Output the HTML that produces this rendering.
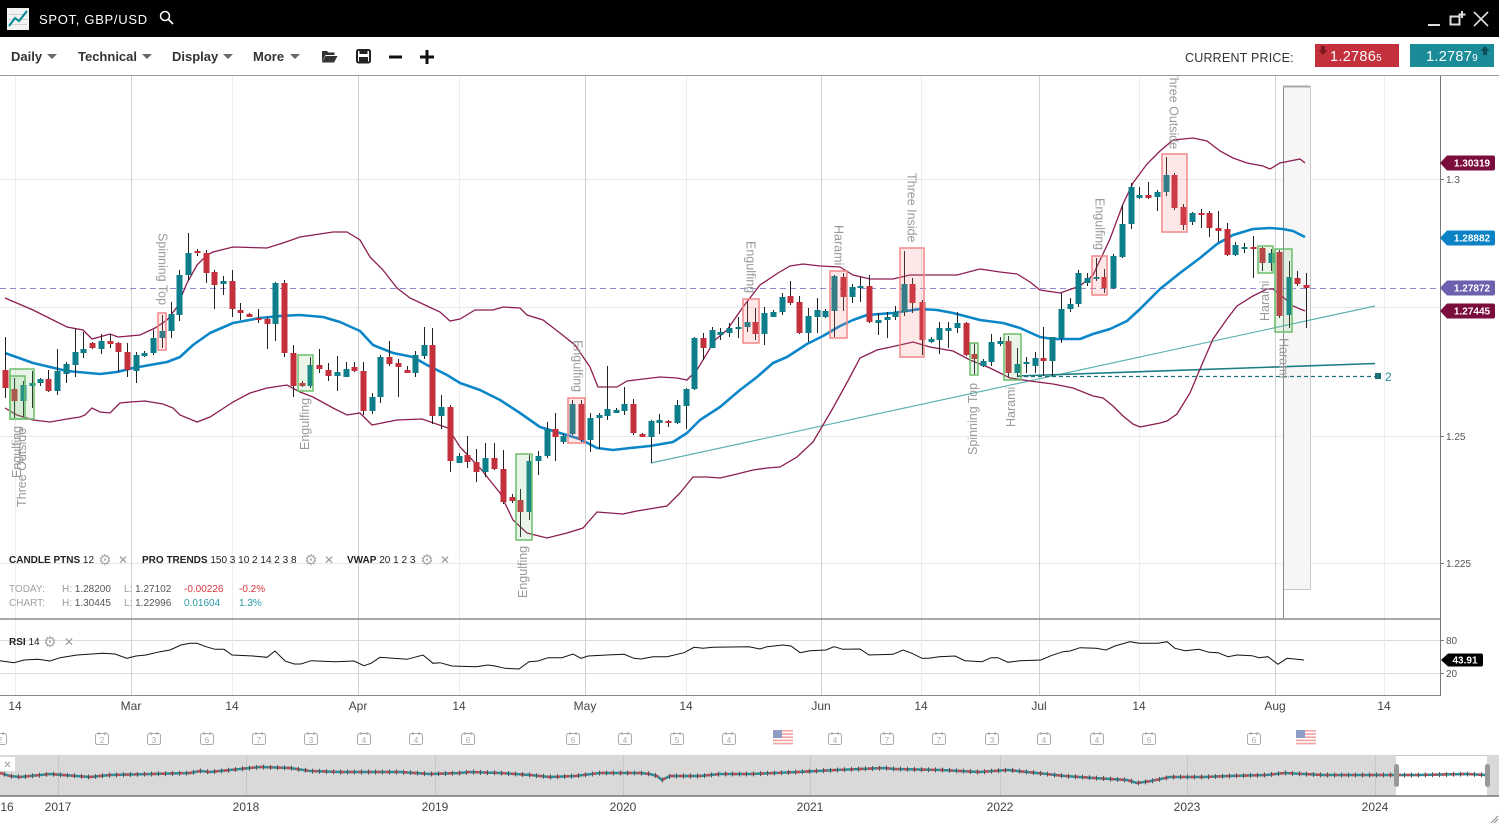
<!DOCTYPE html>
<html><head><meta charset="utf-8"><title>SPOT, GBP/USD</title>
<style>
html,body{margin:0;padding:0;background:#fff;overflow:hidden;width:1499px;height:824px;}
svg{display:block;font-family:"Liberation Sans",sans-serif;}
.sym{font-family:"DejaVu Sans",sans-serif;}
</style></head><body>
<svg id="s" width="1499" height="824" viewBox="0 0 1499 824" xmlns="http://www.w3.org/2000/svg">
<defs>
<clipPath id="cp"><rect x="0" y="76" width="1440" height="542"/></clipPath>
<clipPath id="cr"><rect x="0" y="620" width="1440" height="75"/></clipPath>
</defs>
<rect width="1499" height="824" fill="#fff"/>

<!-- top bar -->
<rect width="1499" height="37" fill="#000"/>
<rect x="7" y="8" width="22" height="22" fill="#f2f2f2"/>
<g stroke="#d0d0d0" stroke-width="1"><line x1="9" y1="14.5" x2="27" y2="14.5"/><line x1="9" y1="19.5" x2="27" y2="19.5"/><line x1="9" y1="24.5" x2="27" y2="24.5"/></g>
<polyline points="9,26 15,18 19,21 27,11" fill="none" stroke="#0f8c96" stroke-width="2.2"/>
<text x="39" y="24" fill="#fff" font-size="13" letter-spacing="0.7">SPOT, GBP/USD</text>
<circle cx="165" cy="16" r="4.5" fill="none" stroke="#fff" stroke-width="1.5"/>
<line x1="168.3" y1="19.3" x2="173" y2="24" stroke="#fff" stroke-width="1.8"/>
<line x1="1428" y1="25" x2="1440" y2="25" stroke="#ddd" stroke-width="2"/>
<rect x="1450.5" y="16.5" width="9" height="8" fill="none" stroke="#ddd" stroke-width="2"/>
<path d="M1462,11 v7 M1458.5,14.5 h7" stroke="#ddd" stroke-width="2"/>
<path d="M1474,12 L1488,26 M1488,12 L1474,26" stroke="#ddd" stroke-width="1.6"/>

<!-- toolbar -->
<g font-size="13" font-weight="bold" fill="#333">
<text x="11" y="61">Daily</text><text x="78" y="61">Technical</text><text x="172" y="61">Display</text><text x="253" y="61">More</text>
</g>
<g fill="#666"><path d="M47,54h10l-5,5z"/><path d="M142,54h10l-5,5z"/><path d="M223,54h10l-5,5z"/><path d="M290,54h10l-5,5z"/></g>
<path d="M322,51 h5 l1.5,1.5 h6 v2.5 h-9 l-3.5,7 z" fill="#333"/>
<path d="M325.5,56 h12 l-3.5,6.5 h-12 z" fill="#333"/>
<rect x="357" y="50" width="13" height="12.5" rx="1.5" fill="none" stroke="#222" stroke-width="2"/>
<rect x="359.5" y="50" width="8" height="4" fill="#222"/>
<rect x="359" y="57" width="9" height="5" fill="#222"/>
<rect x="389" y="55.5" width="13" height="3" fill="#111"/>
<rect x="420" y="55.5" width="14" height="3" fill="#111"/><rect x="425.5" y="50" width="3" height="14" fill="#111"/>

<text x="1185" y="62" font-size="12.5" fill="#333" letter-spacing="0.2">CURRENT PRICE:</text>
<rect x="1315" y="44" width="84" height="23" fill="#c4303c"/>
<text x="1330" y="61" font-size="14.5" fill="#fff" letter-spacing="0.3">1.2786<tspan font-size="10">5</tspan></text>
<path d="M1321,46 h4 v4 h2.5 l-4.5,5 l-4.5,-5 h2.5z" fill="#7b1a20"/>
<rect x="1410" y="44" width="84" height="23" fill="#1a8c98"/>
<text x="1426" y="61" font-size="14.5" fill="#fff" letter-spacing="0.3">1.2787<tspan font-size="10">9</tspan></text>
<path d="M1485,46 l4.5,5 h-2.5 v4 h-4 v-4 h-2.5z" fill="#0c4f58"/>

<line x1="0" y1="75.5" x2="1499" y2="75.5" stroke="#9a9a9a"/>

<!-- grid -->
<g stroke="#e8e8e8" stroke-width="1">
<line x1="0" y1="179.5" x2="1440" y2="179.5"/><line x1="0" y1="307.5" x2="1440" y2="307.5"/>
<line x1="0" y1="436.5" x2="1440" y2="436.5"/><line x1="0" y1="563.5" x2="1440" y2="563.5"/>
<line x1="0" y1="640.5" x2="1440" y2="640.5" stroke="#dcdcdc"/><line x1="0" y1="673.5" x2="1440" y2="673.5" stroke="#dcdcdc"/>
</g>
<g stroke="#ececec" stroke-width="1">
<line x1="15.5" y1="76" x2="15.5" y2="695"/><line x1="232.5" y1="76" x2="232.5" y2="695"/>
<line x1="459.5" y1="76" x2="459.5" y2="695"/><line x1="686.5" y1="76" x2="686.5" y2="695"/>
<line x1="921.5" y1="76" x2="921.5" y2="695"/><line x1="1139.5" y1="76" x2="1139.5" y2="695"/>
<line x1="1384.5" y1="76" x2="1384.5" y2="695"/>
</g>
<g stroke="#d0d0d0" stroke-width="1">
<line x1="131.5" y1="76" x2="131.5" y2="695"/><line x1="358.5" y1="76" x2="358.5" y2="695"/>
<line x1="585.5" y1="76" x2="585.5" y2="695"/><line x1="821.5" y1="76" x2="821.5" y2="695"/>
<line x1="1039.5" y1="76" x2="1039.5" y2="695"/><line x1="1275.5" y1="76" x2="1275.5" y2="695"/>
</g>

<g clip-path="url(#cp)">
<!-- highlight column -->
<rect x="1283.5" y="86.5" width="27" height="503" fill="#f6f6f6" stroke="#c8c8c8"/>
<line x1="1283.5" y1="86" x2="1283.5" y2="618" stroke="#8a8a8a"/>
<line x1="1283" y1="86.5" x2="1310" y2="86.5" stroke="#aaa" stroke-width="2"/>
<!-- current price line -->
<line x1="0" y1="288.5" x2="1440" y2="288.5" stroke="#8f88cc" stroke-dasharray="6,4"/>
<!-- trend lines -->
<line x1="651" y1="463" x2="1375" y2="306" stroke="#5fb2b2" stroke-width="1.2"/>
<line x1="1017" y1="376" x2="1375" y2="363.5" stroke="#1d7d87" stroke-width="1.6"/>
<line x1="1017" y1="376.5" x2="1375" y2="376.5" stroke="#1d6f79" stroke-width="1.2" stroke-dasharray="4,3"/>
<rect x="1375" y="373" width="6" height="6" fill="#1d6f79"/>
<text x="1385" y="381" font-size="12" fill="#2a8a94">2</text>
<!-- bands -->
<polyline fill="none" stroke="#8c1d52" stroke-width="1.3" points="5,298 33,310 67,327 83,330 92,339 110,334 118,337 140,335 155,328 167,320 177,307 187,283 197,265 207,255 213,252 233,247 267,248 283,243 300,237 333,232 347,232 360,240 370,257 383,270 397,288 410,298 427,306 440,312 450,321 460,319 475,310 493,310 503,307 520,308 527,315 543,320 560,333 575,345 590,367 598,387 617,387 627,381 660,377 677,378 687,380 697,370 715,340 727,330 743,307 760,285 778,273 790,266 803,264 820,266 840,267 853,275 870,279 893,279 910,275 940,275 957,275 980,269 1000,272 1017,274 1030,282 1040,290 1060,293 1080,286 1093,275 1110,239 1123,204 1133,183 1147,164 1160,151 1173,140 1193,138 1207,141 1220,151 1233,158 1247,163 1263,166 1270,169 1280,163 1300,159 1305,163"/>
<polyline fill="none" stroke="#8c1d52" stroke-width="1.3" points="5,408 17,415 33,420 50,422 67,419 80,417 85,415 92,408 100,412 110,413 120,403 130,402 145,401 163,404 173,408 180,415 197,422 210,417 233,402 250,393 267,388 287,385 300,392 313,397 333,408 347,415 360,413 372,425 397,420 422,419 448,428 460,447 480,468 500,493 513,520 527,533 547,538 567,533 583,528 597,512 623,514 637,511 667,506 680,493 693,477 707,477 720,478 733,475 753,470 767,468 780,467 797,457 813,442 833,408 850,377 860,358 877,350 900,345 913,342 930,347 953,351 970,360 990,368 1010,378 1030,381 1053,384 1073,388 1093,396 1103,398 1113,406 1123,416 1133,424 1140,427 1160,423 1167,421 1177,414 1190,393 1200,369 1213,339 1227,319 1237,306 1253,296 1267,289 1273,289 1283,297 1293,306 1305,311"/>
<polyline fill="none" stroke="#0b86c8" stroke-width="2.6" stroke-linejoin="round" points="5,353 33,363 67,371 100,374 117,372 133,368 167,362 180,357 193,345 210,333 233,323 260,318 280,316 300,315 323,317 340,322 360,331 373,345 393,353 413,357 427,365 447,375 460,383 480,390 500,400 520,413 540,427 560,433 580,439 597,448 613,450 630,448 650,446 673,442 687,433 700,420 720,407 740,390 757,377 773,363 787,357 807,344 823,336 840,326 853,320 867,315 880,314 893,313 920,309 937,310 953,313 980,320 1003,323 1020,328 1040,337 1053,339 1080,339 1093,334 1110,329 1127,321 1140,309 1160,289 1180,273 1200,258 1217,244 1233,235 1253,229 1270,228 1283,229 1293,231 1305,237"/>
<!-- candles -->
<g id="cd"></g>
<!-- pattern boxes -->
<g fill="rgba(110,195,110,0.16)" stroke="#6cbf6c" stroke-width="1.5">
<rect x="10" y="369" width="24" height="50"/><rect x="10" y="376" width="15" height="43"/>
<rect x="298" y="355" width="15" height="36"/><rect x="516" y="454" width="16" height="86"/>
<rect x="970" y="343" width="8" height="32"/><rect x="1004" y="334" width="17" height="46"/>
<rect x="1258" y="246" width="15" height="27"/><rect x="1275" y="249" width="17" height="83"/>
</g>
<g fill="rgba(250,110,110,0.17)" stroke="#f08888" stroke-width="1.5">
<rect x="158" y="313" width="8" height="37"/><rect x="568" y="398" width="17" height="45"/>
<rect x="743" y="299" width="16" height="44"/><rect x="830" y="271" width="17" height="67"/>
<rect x="900" y="248" width="24" height="109"/><rect x="1092" y="256" width="15" height="39"/>
<rect x="1162" y="154" width="25" height="78"/>
</g>
<!-- pattern labels -->
<g font-size="12.5" fill="#9a9a9a">
<text transform="translate(26,507) rotate(-90)">Three Outside</text>
<text transform="translate(21,478) rotate(-90)">Engulfing</text>
<text transform="translate(158.5,233) rotate(90)">Spinning Top</text>
<text transform="translate(309,450) rotate(-90)">Engulfing</text>
<text transform="translate(527,598) rotate(-90)">Engulfing</text>
<text transform="translate(573.5,340) rotate(90)">Engulfing</text>
<text transform="translate(746.5,241) rotate(90)">Engulfing</text>
<text transform="translate(834.5,225) rotate(90)">Harami</text>
<text transform="translate(907.5,173) rotate(90)">Three Inside</text>
<text transform="translate(977,455) rotate(-90)">Spinning Top</text>
<text transform="translate(1015,427) rotate(-90)">Harami</text>
<text transform="translate(1095.5,198) rotate(90)">Engulfing</text>
<text transform="translate(1169.5,70) rotate(90)">Three Outside</text>
<text transform="translate(1269,321) rotate(-90)">Harami</text>
<text transform="translate(1279.5,338) rotate(90)">Harami</text>
</g>
</g>

<!-- legend -->
<g font-size="10" fill="#222">
<text x="9" y="563"><tspan font-weight="bold">CANDLE PTNS</tspan> 12</text>
<text x="142" y="563"><tspan font-weight="bold">PRO TRENDS</tspan> 150 3 10 2 14 2 3 8</text>
<text x="347" y="563"><tspan font-weight="bold">VWAP</tspan> 20 1 2 3</text>
</g>
<g class="sym" font-size="15" fill="#a8a8a8" text-anchor="middle">
<text x="105" y="565">⚙</text><text x="311" y="565">⚙</text><text x="427" y="565">⚙</text><text x="50" y="647">⚙</text>
</g>
<g class="sym" font-size="12" fill="#999" text-anchor="middle" font-weight="bold">
<text x="123" y="564">✕</text><text x="329" y="564">✕</text><text x="445" y="564">✕</text><text x="69" y="646">✕</text>
</g>
<g font-size="10">
<text x="9" y="592" fill="#a0a0a0">TODAY:</text>
<text x="62" y="592" fill="#555"><tspan fill="#999">H:</tspan> 1.28200</text>
<text x="124" y="592" fill="#555"><tspan fill="#999">L:</tspan> 1.27102</text>
<text x="184" y="592" fill="#d9363e">-0.00226</text>
<text x="239" y="592" fill="#d9363e">-0.2%</text>
<text x="9" y="606" fill="#a0a0a0">CHART:</text>
<text x="62" y="606" fill="#555"><tspan fill="#999">H:</tspan> 1.30445</text>
<text x="124" y="606" fill="#555"><tspan fill="#999">L:</tspan> 1.22996</text>
<text x="184" y="606" fill="#2a9aa5">0.01604</text>
<text x="239" y="606" fill="#2a9aa5">1.3%</text>
</g>

<!-- RSI panel -->
<line x1="0" y1="619" x2="1440" y2="619" stroke="#8a8a8a" stroke-width="1.5"/>
<line x1="0" y1="695.5" x2="1440" y2="695.5" stroke="#8a8a8a"/>
<text x="9" y="645" font-size="10" fill="#222"><tspan font-weight="bold">RSI</tspan> 14</text>
<polyline clip-path="url(#cr)" fill="none" stroke="#111" stroke-width="1" points="0,660.7 14,662.7 24,660 38,659.3 50,661 60,657.7 77,655 103,653.3 115,654 127,658.3 136,656 146,655 160,651.7 170,650 181,645 190,643.3 197,643.3 206,646.7 215,649.3 224,649.3 232,655 253,656 267,657.3 275,651 285,661 294,664 301,664 311,660.7 335,661.7 354,661 364,665.7 371,663.3 380,657.3 407,659.3 423,655 433,663.3 440,662.7 452,666 476,666.7 488,665 495,666 505,668.3 519,669 529,661.7 538,661 548,657.7 562,657.7 573,654 581,658.3 588,656 607,655 624,654.3 634,658.3 641,659 653,656.7 667,656.7 684,652.7 694,647.3 703,648.3 713,647.3 749,646.7 760,649 767,646.7 783,645 791,646 800,652.7 810,650.7 826,650 834,646.7 843,649.3 860,649 869,655 893,654.3 903,650 912,653.3 922,658.3 929,658.3 939,656.7 955,656 965,660.7 982,661.7 991,657.7 998,657.7 1008,662.3 1020,660.7 1041,660 1051,655.7 1063,651.7 1070,651 1080,647.7 1096,648.3 1106,650 1115,646 1130,641.7 1139,643.3 1158,643.3 1167,641.7 1175,648.3 1185,650.7 1199,649.3 1209,652.3 1218,652.7 1228,656.7 1237,655 1252,655.7 1259,657.7 1268,656.7 1278,664.3 1287,658.3 1304,660"/>

<!-- right axis -->
<line x1="1440.5" y1="76" x2="1440.5" y2="696" stroke="#777"/>
<g stroke="#777"><line x1="1440" y1="179.5" x2="1444" y2="179.5"/><line x1="1440" y1="436.5" x2="1444" y2="436.5"/><line x1="1440" y1="563.5" x2="1444" y2="563.5"/><line x1="1440" y1="640.5" x2="1444" y2="640.5"/><line x1="1440" y1="673.5" x2="1444" y2="673.5"/></g>
<g font-size="10" fill="#555">
<text x="1446" y="183">1.3</text><text x="1446" y="440">1.25</text><text x="1446" y="567">1.225</text>
<text x="1446" y="644">80</text><text x="1446" y="677">20</text>
</g>
<path d="M1440,163 L1447,155.5 H1493 a2,2 0 0 1 2,2 V168.5 a2,2 0 0 1 -2,2 H1447 Z" fill="#7b0d3d"/>
<path d="M1440,238 L1447,230.5 H1493 a2,2 0 0 1 2,2 V243.5 a2,2 0 0 1 -2,2 H1447 Z" fill="#0b82c4"/>
<path d="M1440,288 L1447,280.5 H1493 a2,2 0 0 1 2,2 V293.5 a2,2 0 0 1 -2,2 H1447 Z" fill="#6a60ad"/>
<path d="M1440,311 L1447,303.5 H1493 a2,2 0 0 1 2,2 V316.5 a2,2 0 0 1 -2,2 H1447 Z" fill="#7b0d3d"/>
<path d="M1441,660 L1448,653.5 H1481 a2,2 0 0 1 2,2 V664.5 a2,2 0 0 1 -2,2 H1448 Z" fill="#000"/>
<g font-size="10" font-weight="bold" fill="#fff" text-anchor="middle">
<text x="1472" y="166.5">1.30319</text><text x="1472" y="241.5">1.28882</text>
<text x="1472" y="291.5">1.27872</text><text x="1472" y="314.5">1.27445</text>
<text x="1465" y="663.5">43.91</text>
</g>

<!-- x axis labels -->
<g font-size="12" fill="#444" text-anchor="middle">
<text x="15" y="710">14</text><text x="131" y="710">Mar</text><text x="232" y="710">14</text>
<text x="358" y="710">Apr</text><text x="459" y="710">14</text><text x="585" y="710">May</text>
<text x="686" y="710">14</text><text x="821" y="710">Jun</text><text x="921" y="710">14</text>
<text x="1039" y="710">Jul</text><text x="1139" y="710">14</text><text x="1275" y="710">Aug</text>
<text x="1384" y="710">14</text>
</g>

<!-- events row -->
<defs><g id="cal"><rect x="0.5" y="1.5" width="13" height="11" rx="2" fill="#fff" stroke="#aaa"/><path d="M4,0 v3 M10,0 v3" stroke="#aaa" stroke-width="1.2"/></g>
<g id="flag"><rect x="0" y="0" width="20" height="15" fill="#fff"/><g fill="#f5a3a3"><rect y="0" width="20" height="1.6"/><rect y="3.2" width="20" height="1.6"/><rect y="6.4" width="20" height="1.6"/><rect y="9.6" width="20" height="1.6"/><rect y="12.8" width="20" height="1.6"/></g><rect width="9" height="8" fill="#8e9cc6"/></g></defs>
<g>
<use href="#cal" x="-7" y="732"/><use href="#cal" x="95" y="732"/><use href="#cal" x="147" y="732"/><use href="#cal" x="200" y="732"/><use href="#cal" x="252" y="732"/><use href="#cal" x="304" y="732"/><use href="#cal" x="357" y="732"/><use href="#cal" x="409" y="732"/><use href="#cal" x="461" y="732"/><use href="#cal" x="566" y="732"/><use href="#cal" x="618" y="732"/><use href="#cal" x="670" y="732"/><use href="#cal" x="722" y="732"/><use href="#cal" x="828" y="732"/><use href="#cal" x="880" y="732"/><use href="#cal" x="932" y="732"/><use href="#cal" x="985" y="732"/><use href="#cal" x="1037" y="732"/><use href="#cal" x="1090" y="732"/><use href="#cal" x="1142" y="732"/><use href="#cal" x="1247" y="732"/>
<use href="#flag" x="773" y="730"/><use href="#flag" x="1296" y="730"/>
</g>
<g font-size="8" fill="#aaa" text-anchor="middle">
<text x="0" y="743">2</text><text x="102" y="743">2</text><text x="154" y="743">3</text><text x="207" y="743">6</text><text x="259" y="743">7</text><text x="311" y="743">3</text><text x="364" y="743">4</text><text x="416" y="743">4</text><text x="468" y="743">6</text><text x="573" y="743">6</text><text x="625" y="743">4</text><text x="677" y="743">5</text><text x="729" y="743">4</text><text x="835" y="743">4</text><text x="887" y="743">7</text><text x="939" y="743">7</text><text x="992" y="743">3</text><text x="1044" y="743">4</text><text x="1097" y="743">4</text><text x="1149" y="743">6</text><text x="1254" y="743">6</text>
</g>

<!-- navigator -->
<rect x="0" y="755" width="1499" height="41" fill="#d9d9d9"/>
<g stroke="#c6c6c6"><line x1="58.5" y1="755" x2="58.5" y2="796"/><line x1="246.5" y1="755" x2="246.5" y2="796"/><line x1="435.5" y1="755" x2="435.5" y2="796"/><line x1="623.5" y1="755" x2="623.5" y2="796"/><line x1="810.5" y1="755" x2="810.5" y2="796"/><line x1="1000.5" y1="755" x2="1000.5" y2="796"/><line x1="1187.5" y1="755" x2="1187.5" y2="796"/><line x1="1375.5" y1="755" x2="1375.5" y2="796"/></g>
<rect x="1396" y="755" width="91" height="41" fill="#fff"/>
<polyline id="nv" fill="none" stroke="#2a8c96" stroke-width="2.5" points="0,773 10,776 20,777 50,774 90,777 110,775 150,774 190,773 200,771 210,772 240,769 260,767 290,768 310,771 340,772 400,772 430,774 460,773 470,772 500,773 530,775 550,777 575,776 600,773 640,773 650,774 657,776 662,780 670,776 700,776 720,774 750,774 798,772 836,770 884,768 895,769 941,770 979,772 1008,770 1037,773 1065,776 1094,778 1127,780 1137,783 1151,781 1170,777 1204,777 1228,776 1266,775 1285,773 1323,775 1371,775 1419,775 1467,774 1486,775"/>
<polyline fill="none" stroke="#bb4b55" stroke-width="2.5" stroke-dasharray="4,5" points="0,773 10,776 20,777 50,774 90,777 110,775 150,774 190,773 200,771 210,772 240,769 260,767 290,768 310,771 340,772 400,772 430,774 460,773 470,772 500,773 530,775 550,777 575,776 600,773 640,773 650,774 657,776 662,780 670,776 700,776 720,774 750,774 798,772 836,770 884,768 895,769 941,770 979,772 1008,770 1037,773 1065,776 1094,778 1127,780 1137,783 1151,781 1170,777 1204,777 1228,776 1266,775 1285,773 1323,775 1371,775 1419,775 1467,774 1486,775"/>
<g id="nt" stroke="#555" stroke-width="1"></g>
<rect x="1394" y="764" width="5" height="23" rx="2.5" fill="#999"/>
<rect x="1485" y="764" width="5" height="23" rx="2.5" fill="#999"/>
<line x1="1396" y1="755.5" x2="1487" y2="755.5" stroke="#c8c8c8"/>
<line x1="0" y1="796" x2="1499" y2="796" stroke="#777" stroke-width="1.5"/>
<rect x="0" y="757" width="15" height="14" fill="#fff"/>
<text class="sym" x="7.5" y="768" font-size="10" font-weight="bold" fill="#999" text-anchor="middle">✕</text>
<g font-size="12" fill="#444" text-anchor="middle">
<text x="7" y="811">16</text><text x="58" y="811">2017</text><text x="246" y="811">2018</text><text x="435" y="811">2019</text><text x="623" y="811">2020</text><text x="810" y="811">2021</text><text x="1000" y="811">2022</text><text x="1187" y="811">2023</text><text x="1375" y="811">2024</text>
</g>
<path d="M1491,823 L1498,816 M1494,823 L1498,819" stroke="#888"/>
</svg>
<script>
var C=[[5,370,388,337,398,'r'],[14,389,401,378,418,'r'],[23,385,401,381,417,'t'],[32,383,386,371,408,'t'],[40,379,383,378,386,'t'],[48,379,391,370,392,'r'],[57,371,391,349,395,'t'],[66,364,374,362,383,'t'],[75,352,365,328,377,'t'],[83,349,353,332,358,'t'],[92,343,348,342,349,'r'],[101,341,349,334,354,'t'],[110,341,344,334,348,'r'],[118,343,352,342,372,'r'],[127,352,370,343,377,'r'],[136,355,371,352,383,'t'],[144,353,356,351,357,'t'],[153,338,353,330,355,'t'],[162,331,338,315,348,'t'],[171,314,331,302,338,'t'],[179,275,315,270,321,'t'],[188,253,275,233,280,'t'],[197,251,253,249,256,'r'],[206,253,273,250,283,'r'],[214,272,285,270,309,'r'],[223,281,284,276,295,'t'],[232,281,309,270,317,'r'],[240,310,313,303,320,'r'],[249,314,317,313,317,'r'],[258,318,319,309,323,'r'],[267,319,324,317,349,'r'],[275,283,324,282,341,'t'],[284,283,353,280,357,'r'],[293,353,386,345,397,'r'],[302,383,386,381,387,'r'],[310,365,386,357,388,'t'],[319,365,369,349,373,'r'],[328,370,376,363,381,'r'],[337,372,376,356,391,'t'],[346,369,377,362,377,'t'],[354,367,371,362,372,'r'],[363,371,411,362,415,'r'],[372,397,411,393,414,'t'],[380,357,397,355,403,'t'],[389,357,364,341,366,'r'],[398,363,367,359,397,'r'],[407,370,373,366,373,'r'],[415,355,373,351,377,'t'],[424,345,356,327,359,'t'],[432,345,416,328,424,'r'],[441,407,416,395,429,'t'],[450,407,461,405,472,'r'],[459,456,463,453,463,'t'],[467,455,462,436,468,'r'],[476,462,472,449,482,'r'],[485,458,472,443,477,'t'],[494,458,469,443,470,'r'],[503,469,502,450,504,'r'],[512,497,501,494,503,'r'],[520,500,512,489,537,'r'],[529,461,512,455,520,'t'],[538,456,461,451,475,'t'],[547,429,456,422,458,'t'],[555,429,437,413,461,'r'],[563,436,442,434,444,'t'],[572,404,434,400,435,'t'],[581,404,440,400,442,'r'],[590,418,440,413,452,'t'],[599,415,418,413,449,'t'],[607,409,416,366,420,'t'],[616,410,413,408,413,'t'],[624,404,411,387,415,'t'],[633,404,433,399,435,'r'],[642,434,437,433,437,'r'],[651,421,437,420,463,'t'],[659,420,423,414,434,'t'],[668,421,423,420,427,'r'],[677,405,423,400,424,'t'],[686,389,406,388,429,'t'],[694,338,389,337,390,'t'],[703,338,348,333,360,'r'],[712,330,348,327,348,'t'],[720,332,335,328,340,'t'],[729,328,333,323,337,'t'],[738,327,329,317,338,'t'],[747,322,327,301,332,'t'],[755,322,334,308,340,'r'],[764,313,334,307,345,'t'],[773,312,317,310,317,'t'],[782,297,312,293,315,'t'],[790,296,303,281,305,'r'],[799,302,333,296,334,'r'],[808,316,333,308,342,'t'],[817,310,317,298,333,'t'],[825,311,317,309,318,'t'],[834,276,311,275,337,'t'],[843,277,297,273,311,'r'],[852,287,297,284,303,'t'],[860,286,288,277,302,'t'],[869,286,322,275,323,'r'],[878,320,323,313,335,'t'],[887,317,320,312,338,'t'],[895,312,317,306,320,'t'],[904,284,312,251,316,'t'],[912,284,303,278,313,'r'],[922,302,340,300,355,'r'],[931,339,342,337,343,'t'],[939,328,340,322,354,'t'],[948,328,331,322,348,'t'],[957,323,328,312,333,'t'],[966,323,355,322,356,'r'],[974,354,359,343,374,'r'],[983,361,366,359,367,'t'],[991,342,362,334,366,'t'],[1000,341,344,337,346,'t'],[1008,341,373,336,377,'r'],[1017,364,373,348,377,'t'],[1026,362,364,357,373,'t'],[1035,358,366,352,373,'t'],[1043,358,361,327,376,'r'],[1052,337,361,337,376,'t'],[1061,309,338,293,343,'t'],[1070,304,309,298,312,'t'],[1078,273,304,270,307,'t'],[1087,278,283,273,286,'t'],[1096,277,279,258,281,'t'],[1104,277,288,269,293,'r'],[1113,256,288,254,289,'t'],[1122,224,257,205,258,'t'],[1131,187,224,183,229,'t'],[1139,195,198,187,199,'t'],[1148,195,198,182,199,'r'],[1157,192,197,190,211,'t'],[1166,175,192,157,196,'t'],[1174,175,208,173,210,'r'],[1183,207,225,204,230,'r'],[1192,213,222,212,225,'t'],[1201,213,215,209,228,'r'],[1209,213,228,211,237,'r'],[1218,228,231,211,242,'r'],[1227,229,255,223,256,'r'],[1235,245,255,242,256,'t'],[1244,247,249,243,253,'t'],[1253,247,249,236,278,'r'],[1262,248,263,247,271,'r'],[1271,253,263,249,271,'t'],[1279,252,316,250,318,'r'],[1289,277,315,261,328,'t'],[1297,278,284,271,286,'r'],[1306,285,288,273,328,'r']];
var NS="http://www.w3.org/2000/svg",g=document.getElementById('cd');
C.forEach(function(c){
 var l=document.createElementNS(NS,'line');
 l.setAttribute('x1',c[0]+0.5);l.setAttribute('x2',c[0]+0.5);l.setAttribute('y1',c[3]);l.setAttribute('y2',c[4]);
 l.setAttribute('stroke','#222');l.setAttribute('stroke-width','1');g.appendChild(l);
 var r=document.createElementNS(NS,'rect');
 r.setAttribute('x',c[0]-2.5);r.setAttribute('y',c[1]);r.setAttribute('width',6);r.setAttribute('height',Math.max(c[2]-c[1],2));
 r.setAttribute('fill',c[5]=='r'?'#c4313d':'#0d7f8b');g.appendChild(r);
});
// navigator small ticks
var nv=document.getElementById('nv').getAttribute('points').trim().split(/\s+/).map(function(p){return p.split(',').map(Number);});
var nt=document.getElementById('nt');
function yAt(x){for(var i=1;i<nv.length;i++){if(x<=nv[i][0]){var a=nv[i-1],b=nv[i];return a[1]+(b[1]-a[1])*(x-a[0])/(b[0]-a[0]);}}return nv[nv.length-1][1];}
for(var x=4;x<1486;x+=7){var y=yAt(x);var l=document.createElementNS(NS,'line');l.setAttribute('x1',x+0.5);l.setAttribute('x2',x+0.5);l.setAttribute('y1',y-2.5);l.setAttribute('y2',y+2.5);nt.appendChild(l);}
</script>
</body></html>
